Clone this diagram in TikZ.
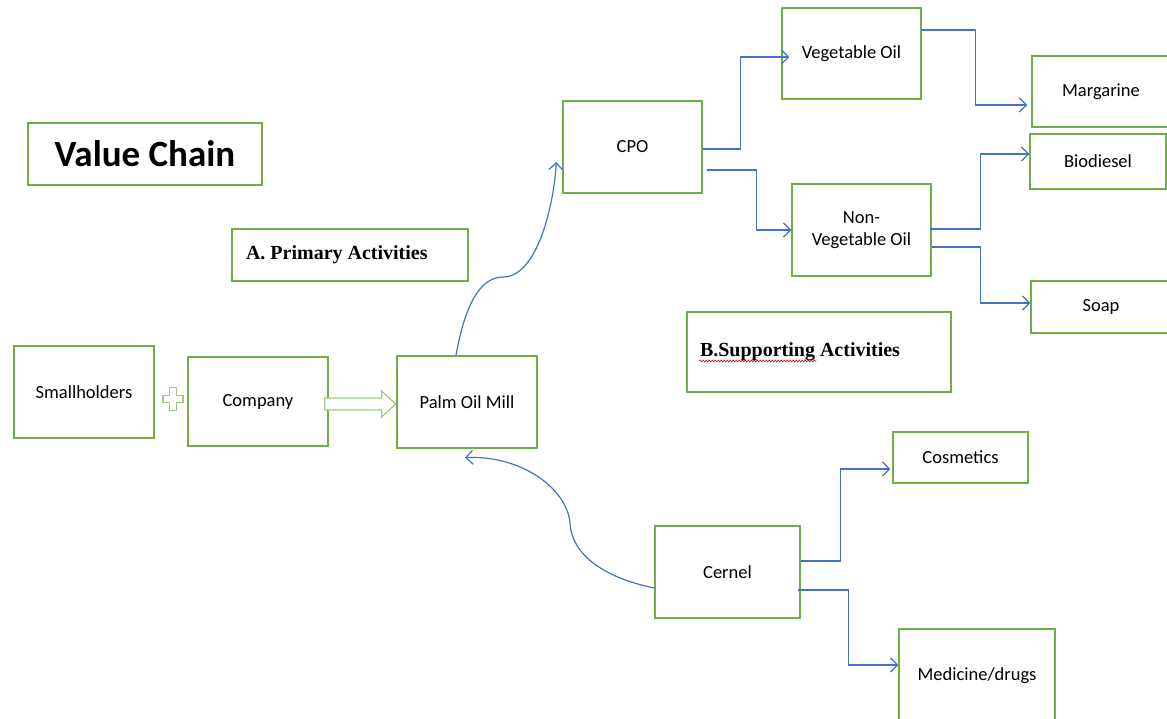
\documentclass[tikz,border=0pt]{standalone}
\usepackage{fontspec}
\setmainfont{Carlito}
\newfontfamily\headfont{Liberation Serif}
\usetikzlibrary{arrows.meta,decorations.pathmorphing}
\definecolor{boxgreen}{HTML}{70AD47}
\definecolor{lightgreen}{HTML}{9DCB7E}
\definecolor{flowblue}{HTML}{4472C4}

\begin{document}
\begin{tikzpicture}[x=1pt,y=-1pt,
  box/.style={draw=boxgreen,line width=1.4pt,fill=white,inner sep=2pt,align=center,
              font=\fontsize{18.5}{22.6}\selectfont},
  headbox/.style={draw=boxgreen,line width=1.4pt,fill=white,inner ysep=2pt,
              font=\headfont\fontsize{20}{24}\selectfont\bfseries},
  flow/.style={draw=flowblue,line width=1.2pt,-{Straight Barb[length=7pt,width=14pt]}},
  hollow/.style={draw=lightgreen,line width=1.2pt,fill=white,line join=miter}]
  \fill[white] (0,0) rectangle (1167,718);
  \useasboundingbox (0,0) rectangle (1167,718);

  % Headings
  \node[box,minimum width=234pt,minimum height=62pt,font=\fontsize{37}{44}\selectfont\bfseries]
        (title)   at (145,154)   {Value Chain};
  \node[headbox,inner xsep=14pt,minimum height=52pt]
        (prim)    at (350,255)   {\makebox[208pt][l]{A. Primary Activities}};
  \node[headbox,inner xsep=13pt,minimum height=80pt]
        (supp)    at (819,352)   {\makebox[238pt][l]{B.Supporting Activities}};
  \draw[red,line width=0.6pt,decorate,decoration={snake,amplitude=0.9pt,segment length=3pt}]
        ([xshift=13pt,yshift=-9pt]supp.west) -- ++(117,0);

  % Left part of the Figure
  \node[box,minimum width=140pt,minimum height=92pt] (small)   at (84,392)    {Smallholders};
  \node[box,minimum width=140pt,minimum height=89pt] (company) at (258,401.5) {Company};
  \node[box,minimum width=140pt,minimum height=92pt] (mill)    at (467,402)   {Palm Oil Mill};
  \coordinate (plus) at (173,399);
  \draw[hollow] (plus) ++(-3.5,-11.5) -- ++(7,0) -- ++(0,8) -- ++(6.5,0) -- ++(0,7) -- ++(-6.5,0)
        -- ++(0,8) -- ++(-7,0) -- ++(0,-8) -- ++(-6.5,0) -- ++(0,-7) -- ++(6.5,0) -- cycle;
  \draw[hollow] ([shift={(-4,-3.5)}]company.east) -- ++(57,0) -- ++(0,-7) -- ++(14,13)
        -- ++(-14,13) -- ++(0,-7) -- ++(-57,0) -- cycle;

  % Upper right part of the Figure
  \node[box,minimum width=139pt,minimum height=92pt] (cpo)    at (632.5,147)  {CPO};
  \node[box,minimum width=139pt,minimum height=91pt] (veg)    at (851.5,53.5) {Vegetable Oil};
  \node[box,minimum width=139pt,minimum height=92pt] (nonveg) at (861.5,230)  {Non-\\Vegetable Oil};
  \node[box,minimum width=138pt,minimum height=71pt] (marg)   at (1101,91.5)  {Margarine};
  \node[box,minimum width=136pt,minimum height=55pt] (bio)    at (1098,161.5) {Biodiesel};
  \node[box,minimum width=140pt,minimum height=52pt] (soap)   at (1101,307)   {Soap};
  \draw[flow] ([yshift=-2pt]cpo.east) -- ++(38,0) |- ([xshift=8pt,yshift=-3.5pt]veg.west);
  \draw[flow] ([xshift=4pt,yshift=-23pt]cpo.east) -- ++(50,0) |- (nonveg.west);
  \draw[flow] ([yshift=23.5pt]veg.east) -- ++(54,0) |- ([xshift=-4pt,yshift=-13.5pt]marg.west);
  \draw[flow] ([xshift=-2pt,yshift=1pt]nonveg.east) -- ++(51,0) |- ([yshift=7.5pt]bio.west);
  \draw[flow] ([yshift=-17pt]nonveg.east) -- ++(49,0) |- ([yshift=4pt]soap.west);

  % Lower right part of the Figure
  \node[box,minimum width=135pt,minimum height=51pt] (cosm)   at (960.5,457.5) {Cosmetics};
  \node[box,minimum width=145pt,minimum height=92pt] (cernel) at (727.5,572)   {Cernel};
  \node[box,minimum width=156pt,minimum height=94pt] (med)    at (977,676)     {Medicine/drugs};
  \draw[flow] ([yshift=11pt]cernel.east) -- ++(40,0) |- ([xshift=-2pt,yshift=-11.5pt]cosm.west);
  \draw[flow] ([xshift=-3pt,yshift=-18pt]cernel.east) -- ++(51,0) |- ([yshift=11pt]med.west);

  % Curved links
  \draw[flow] ([xshift=-11pt]mill.north) .. controls +(8,-45) and +(-25,0) .. (503,277)
        .. controls +(35,0) and +(-2,40) .. ([xshift=-6pt,yshift=-15pt]cpo.west);
  \draw[flow] ([yshift=-16pt]cernel.west) .. controls +(-40,-8) and +(2,37) .. (570,523)
        .. controls +(-3,-35) and +(55,-3) .. ([xshift=-2pt,yshift=-9pt]mill.south);
\end{tikzpicture}
\end{document}
